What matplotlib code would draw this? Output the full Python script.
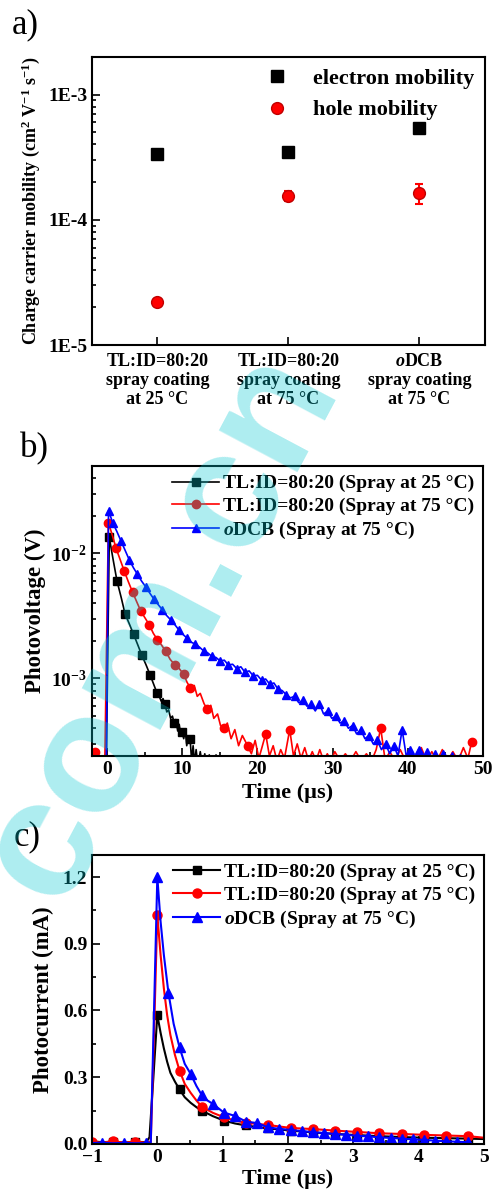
import numpy as np
import matplotlib
matplotlib.use("Agg")
import matplotlib.pyplot as plt
from matplotlib.ticker import FixedLocator, NullFormatter, MultipleLocator

plt.rcParams['font.family'] = ['Liberation Serif', 'DejaVu Serif']
plt.rcParams['font.weight'] = 'bold'
plt.rcParams['axes.labelweight'] = 'bold'
plt.rcParams['mathtext.fontset'] = 'custom'
plt.rcParams['mathtext.rm'] = 'Liberation Serif:bold'
plt.rcParams['mathtext.bf'] = 'Liberation Serif:bold'
plt.rcParams['mathtext.it'] = 'Liberation Serif:italic:bold'

# ---- panel a: mobilities ----
samples = ["TL:ID=80:20\nspray coating\nat 25 \u00b0C",
           "TL:ID=80:20\nspray coating\nat 75 \u00b0C",
           r"$\it{o}$DCB" + "\nspray coating\nat 75 \u00b0C"]
electron_mu = [3.38e-4, 3.48e-4, 5.4e-4]
electron_err = [0.1e-4, 0.3e-4, 0.15e-4]
hole_mu = [2.22e-5, 1.56e-4, 1.65e-4]
hole_err = [0.1e-5, 0.15e-4, 0.3e-4]

# ---- panel b: transient photovoltage ----
t_b_black = [-1.0, -0.4, -0.1, 0.3, 0.8, 1.33, 1.9, 2.39, 3.0, 3.54, 4.1, 4.6, 5.2, 5.75,
             6.2, 6.63, 6.9, 7.2, 7.45, 7.7, 7.95, 8.2, 8.45, 8.7, 8.93, 9.15, 9.4, 9.6,
             9.8, 10.0, 10.2, 10.4, 10.6, 10.8, 11.05, 11.25, 11.45, 11.65, 11.85, 12.1,
             12.4, 12.7, 13.0, 13.3, 13.6, 14.0, 14.5, 15.0]
v_b_black = [2.0e-4, 2.0e-4, 2.0e-4, 1.34e-2, 9.0e-3, 6.0e-3, 4.4e-3, 3.3e-3, 2.7e-3, 2.25e-3,
             1.85e-3, 1.55e-3, 1.28e-3, 1.06e-3, 9.0e-4, 7.7e-4, 7.3e-4, 6.6e-4, 6.9e-4,
             6.2e-4, 5.4e-4, 5.6e-4, 4.8e-4, 5.0e-4, 4.4e-4, 4.7e-4, 3.8e-4, 4.3e-4, 3.6e-4,
             3.7e-4, 3.3e-4, 3.9e-4, 2.9e-4, 3.4e-4, 3.3e-4, 2.2e-4, 2.9e-4, 2.1e-4, 2.7e-4,
             2.0e-4, 2.6e-4, 2.0e-4, 2.5e-4, 2.0e-4, 2.45e-4, 2.0e-4, 2.45e-4, 2.0e-4]
mk_b_black = [0.3, 1.33, 2.39, 3.54, 4.6, 5.75, 6.63, 7.7, 8.93, 10.0, 11.05]

t_b_red = [-1.6, -1.0, -0.3, 0.18, 0.7, 1.2, 1.75, 2.3, 2.85, 3.4, 3.95, 4.5, 5.05, 5.6, 6.15,
           6.7, 7.25, 7.8, 8.4, 9.0, 9.6, 10.2, 10.65, 11.1, 11.6, 12.0, 12.4, 12.9, 13.3,
           13.8, 14.2, 14.7, 15.1, 15.6, 16.0, 16.5, 17.0, 17.5, 18.0, 18.7, 19.2, 19.7, 20.2,
           20.6, 21.1, 21.6, 22.1, 22.6, 23.1, 23.6, 24.3, 24.8, 25.3, 25.8, 26.3, 26.8, 27.3,
           27.8, 28.3, 28.8, 29.3, 29.8, 30.3, 31.0, 31.7, 32.4, 33.1, 33.8, 34.5, 35.2, 35.8,
           36.4, 37.0, 37.6, 38.3, 39.0, 39.7, 40.4, 41.1, 41.8, 42.5, 43.2, 43.9, 44.6, 45.3,
           46.0, 46.7, 47.4, 48.0, 48.5]
v_b_red = [2.6e-4, 2.0e-4, 2.0e-4, 1.76e-2, 1.4e-2, 1.1e-2, 8.9e-3, 7.2e-3, 5.9e-3, 4.9e-3,
           4.1e-3, 3.45e-3, 3.05e-3, 2.7e-3, 2.3e-3, 2.04e-3, 1.85e-3, 1.65e-3, 1.42e-3, 1.29e-3,
           1.2e-3, 1.08e-3, 9.3e-4, 8.4e-4, 8.8e-4, 7.2e-4, 7.6e-4, 6.3e-4, 5.7e-4, 6.1e-4,
           4.8e-4, 5.2e-4, 4.2e-4, 4.0e-4, 4.4e-4, 3.3e-4, 3.9e-4, 2.9e-4, 3.5e-4, 2.9e-4,
           2.5e-4, 3.2e-4, 2.3e-4, 2.8e-4, 3.6e-4, 2.4e-4, 2.9e-4, 2.2e-4, 2.7e-4, 2.3e-4,
           3.9e-4, 2.4e-4, 3.0e-4, 2.3e-4, 2.8e-4, 2.2e-4, 2.6e-4, 2.2e-4, 2.7e-4, 2.2e-4,
           2.5e-4, 2.2e-4, 2.6e-4, 2.2e-4, 2.5e-4, 2.2e-4, 2.6e-4, 2.2e-4, 2.5e-4, 2.2e-4,
           2.7e-4, 4.0e-4, 2.2e-4, 2.6e-4, 2.2e-4, 2.7e-4, 2.2e-4, 2.5e-4, 2.2e-4, 2.8e-4,
           2.2e-4, 2.6e-4, 2.2e-4, 2.7e-4, 2.2e-4, 2.6e-4, 2.2e-4, 2.8e-4, 2.3e-4, 3.1e-4]
mk_b_red = [-1.6, 0.18, 1.2, 2.3, 3.4, 4.5, 5.6, 6.7, 7.8, 9.0, 10.2, 11.1, 13.3, 15.6, 18.7,
            21.1, 24.3, 36.4, 48.5]

t_b_blue = [-1.0, -0.5, -0.1, 0.2, 0.75, 1.3, 1.85, 2.4, 2.95, 3.5, 4.05, 4.6, 5.15, 5.7, 6.25,
            6.8, 7.35, 7.9, 8.45, 9.0, 9.55, 10.1, 10.65, 11.2, 11.75, 12.3, 12.85, 13.4, 13.95,
            14.5, 15.05, 15.6, 16.15, 16.7, 17.25, 17.8, 18.35, 18.9, 19.45, 20.0, 20.55, 21.1,
            21.65, 22.2, 22.75, 23.3, 23.85, 24.4, 24.95, 25.5, 26.05, 26.6, 27.15, 27.7, 28.25,
            28.8, 29.35, 29.9, 30.45, 31.0, 31.55, 32.1, 32.65, 33.2, 33.75, 34.3, 34.85, 35.4,
            35.95, 36.5, 37.05, 37.6, 38.15, 38.7, 39.25, 39.8, 40.35, 40.9, 41.45, 42.0, 42.55,
            43.1, 43.65, 44.2, 44.75, 45.3, 45.85, 46.4, 46.95, 47.5]
v_b_blue = [2.0e-4, 2.0e-4, 2.0e-4, 2.2e-2, 1.76e-2, 1.5e-2, 1.26e-2, 1.06e-2, 8.9e-3, 7.7e-3,
            6.8e-3, 6.0e-3, 5.4e-3, 4.8e-3, 4.3e-3, 3.9e-3, 3.55e-3, 3.2e-3, 2.95e-3, 2.7e-3,
            2.45e-3, 2.25e-3, 2.1e-3, 1.95e-3, 1.88e-3, 1.78e-3, 1.66e-3, 1.6e-3, 1.5e-3,
            1.47e-3, 1.38e-3, 1.4e-3, 1.28e-3, 1.3e-3, 1.2e-3, 1.24e-3, 1.12e-3, 1.15e-3,
            1.05e-3, 1.06e-3, 9.7e-4, 9.9e-4, 9.0e-4, 9.2e-4, 8.2e-4, 8.0e-4, 7.4e-4, 7.0e-4,
            7.2e-4, 6.4e-4, 6.7e-4, 6.0e-4, 6.2e-4, 5.5e-4, 6.3e-4, 5.2e-4, 5.5e-4, 4.8e-4,
            5.0e-4, 4.4e-4, 4.6e-4, 4.0e-4, 4.2e-4, 3.6e-4, 3.9e-4, 3.3e-4, 3.5e-4, 3.0e-4,
            3.2e-4, 2.7e-4, 3.0e-4, 2.5e-4, 2.9e-4, 2.4e-4, 3.9e-4, 2.4e-4, 2.7e-4, 2.3e-4,
            2.7e-4, 2.2e-4, 2.6e-4, 2.2e-4, 2.5e-4, 2.2e-4, 2.5e-4, 2.2e-4, 2.4e-4, 2.2e-4,
            2.3e-4, 2.1e-4]
mk_b_blue = [0.2, 0.75, 1.85, 2.95, 4.05, 5.15, 6.25, 7.35, 8.45, 9.55, 10.65, 11.75, 12.85,
             13.95, 15.05, 16.15, 17.25, 18.35, 19.45, 20.55, 21.65, 22.75, 23.85, 24.95, 26.05,
             27.15, 28.25, 29.35, 30.45, 31.55, 32.65, 33.75, 34.85, 35.95, 37.05, 38.15, 39.25,
             40.35, 41.45, 42.55, 43.65, 44.75, 45.85, 46.95]

# ---- panel c: transient photocurrent ----
t_c_black = [-1.0, -0.85, -0.68, -0.51, -0.34, -0.17, -0.12, -0.06, 0.0, 0.05, 0.1, 0.15, 0.2,
             0.27, 0.34, 0.42, 0.51, 0.6, 0.68, 0.85, 1.02, 1.19, 1.36, 1.53, 1.7, 2.04, 2.38,
             2.72, 3.06, 3.4, 3.74, 4.08, 4.42, 4.76, 5.0]
i_c_black = [0.012, 0.008, 0.01, 0.006, 0.01, 0.008, 0.03, 0.3, 0.58, 0.5, 0.43, 0.37, 0.32,
             0.28, 0.245, 0.21, 0.185, 0.165, 0.15, 0.125, 0.105, 0.092, 0.083, 0.076, 0.07,
             0.06, 0.052, 0.045, 0.04, 0.035, 0.031, 0.028, 0.026, 0.024, 0.022]
mk_c_black = [-0.68, -0.34, 0.0, 0.34, 0.68, 1.02, 1.36, 1.7, 2.04, 2.38, 2.72, 3.06, 3.4,
              3.74, 4.08, 4.42, 4.76]

t_c_red = [-1.0, -0.85, -0.68, -0.51, -0.34, -0.17, -0.1, -0.05, 0.0, 0.05, 0.1, 0.15, 0.2,
           0.27, 0.34, 0.42, 0.51, 0.6, 0.68, 0.85, 1.02, 1.19, 1.36, 1.53, 1.7, 2.04, 2.38,
           2.72, 3.06, 3.4, 3.74, 4.08, 4.42, 4.76, 5.0]
i_c_red = [0.01, 0.006, 0.012, 0.006, 0.01, 0.006, 0.01, 0.5, 1.03, 0.85, 0.7, 0.58, 0.49,
           0.4, 0.33, 0.27, 0.23, 0.195, 0.168, 0.14, 0.12, 0.105, 0.095, 0.09, 0.085, 0.072,
           0.067, 0.06, 0.054, 0.048, 0.045, 0.041, 0.038, 0.035, 0.028]
mk_c_red = [-1.0, -0.68, -0.34, 0.0, 0.34, 0.68, 1.02, 1.36, 1.7, 2.04, 2.38, 2.72, 3.06, 3.4,
            3.74, 4.08, 4.42, 4.76]

t_c_blue = [-1.0, -0.85, -0.68, -0.51, -0.34, -0.17, -0.1, -0.05, 0.0, 0.05, 0.1, 0.17, 0.25,
            0.34, 0.42, 0.51, 0.6, 0.68, 0.77, 0.85, 1.02, 1.19, 1.36, 1.53, 1.7, 1.87, 2.04,
            2.21, 2.38, 2.55, 2.72, 2.89, 3.06, 3.23, 3.4, 3.57, 3.74, 3.91, 4.08, 4.25, 4.42,
            4.59, 4.76]
i_c_blue = [0.004, 0.006, 0.003, 0.005, 0.003, 0.004, 0.005, 0.6, 1.2, 1.0, 0.85, 0.68, 0.54,
            0.434, 0.36, 0.315, 0.26, 0.22, 0.195, 0.18, 0.141, 0.126, 0.10, 0.094, 0.074,
            0.068, 0.063, 0.058, 0.053, 0.049, 0.045, 0.041, 0.037, 0.034, 0.03, 0.027, 0.024,
            0.021, 0.018, 0.015, 0.012, 0.01, 0.008]
mk_c_blue = [-0.85, -0.51, -0.17, 0.0, 0.17, 0.34, 0.51, 0.68, 0.85, 1.02, 1.19, 1.36, 1.53,
             1.7, 1.87, 2.04, 2.21, 2.38, 2.55, 2.72, 2.89, 3.06, 3.23, 3.4, 3.57, 3.74, 3.91,
             4.08, 4.25, 4.42, 4.59, 4.76]

series_labels = ["TL:ID=80:20 (Spray at 25 \u00b0C)",
                 "TL:ID=80:20 (Spray at 75 \u00b0C)",
                 r"$\it{o}$DCB" + " (Spray at 75 \u00b0C)"]


def mk_idx(t, mk):
    # indices of the samples that carry a marker
    return list(np.where(np.isin(np.round(t, 2), np.round(mk, 2)))[0])


def style_axes(ax):
    for s in ax.spines.values():
        s.set_linewidth(1.5)
    ax.tick_params(which='both', direction='in', top=False, right=False, width=1.2)
    ax.tick_params(which='major', length=6, labelsize=14)
    ax.tick_params(which='minor', length=3)


fig = plt.figure(figsize=(4.93, 12), dpi=100)

# a)
ax1 = fig.add_axes([0.1866, 0.7125, 0.797, 0.24])
pos = [1, 2, 3]
ax1.errorbar(pos, electron_mu, yerr=electron_err, fmt='none', ecolor='black', elinewidth=1.5,
             capsize=3, capthick=1.5)
ax1.errorbar(pos, hole_mu, yerr=hole_err, fmt='none', ecolor='red', elinewidth=1.5,
             capsize=3, capthick=1.5)
ax1.plot(pos, electron_mu, 's', color='black', ms=8, label='electron mobility')
ax1.plot(pos, hole_mu, 'o', color='red', mec='#c00000', ms=8.5, label='hole mobility')
ax1.set_yscale('log')
ax1.set_ylim(1e-5, 2e-3)
ax1.set_xlim(0.5, 3.5)
ax1.set_xticks(pos)
ax1.set_xticklabels(samples, fontsize=13, linespacing=1.15)
ax1.set_yticks([1e-5, 1e-4, 1e-3])
ax1.set_yticklabels(['1E-5', '1E-4', '1E-3'])
style_axes(ax1)
ax1.tick_params(axis='x', pad=6, labelsize=13)
ax1.set_ylabel(r'Charge carrier mobility (cm$^{2}$ V$^{-1}$ s$^{-1}$)', fontsize=13, labelpad=4)
ax1.legend(loc='upper right', frameon=False, fontsize=16, handletextpad=0.6,
           borderaxespad=0.1, labelspacing=0.5)
fig.text(12 / 493, 1 - 8 / 1200, 'a)', fontsize=25, weight='normal', va='top', ha='left')

# b)
ax2 = fig.add_axes([0.1866, 0.37, 0.793, 0.2417])
ax2.plot(t_b_black, v_b_black, '-s', color='black', lw=1.2, ms=5.5,
         markevery=mk_idx(t_b_black, mk_b_black), label=series_labels[0])
ax2.plot(t_b_red, v_b_red, '-o', color='red', lw=1.2, ms=6,
         markevery=mk_idx(t_b_red, mk_b_red), label=series_labels[1])
ax2.plot(t_b_blue, v_b_blue, '-^', color='blue', lw=1.2, ms=6,
         markevery=mk_idx(t_b_blue, mk_b_blue), label=series_labels[2])
ax2.set_yscale('log')
ax2.set_ylim(2.4e-4, 5e-2)
ax2.set_xlim(-2, 50)
ax2.set_yticks([1e-3, 1e-2])
ax2.set_yticklabels([r'$\mathbf{10^{-3}}$', r'$\mathbf{10^{-2}}$'])
ax2.yaxis.set_minor_locator(FixedLocator([3e-4, 4e-4, 5e-4, 6e-4, 7e-4, 8e-4, 9e-4,
                                          2e-3, 3e-3, 4e-3, 5e-3, 6e-3, 7e-3, 8e-3, 9e-3,
                                          2e-2, 3e-2, 4e-2]))
ax2.yaxis.set_minor_formatter(NullFormatter())
ax2.xaxis.set_major_locator(MultipleLocator(10))
ax2.xaxis.set_minor_locator(MultipleLocator(5))
style_axes(ax2)
ax2.set_xlabel('Time (\u00b5s)', fontsize=16, labelpad=4)
ax2.set_ylabel('Photovoltage (V)', fontsize=16.5, labelpad=4)
ax2.legend(loc='upper right', frameon=False, fontsize=14, handlelength=2.4,
           handletextpad=0.2, borderaxespad=0.05, labelspacing=0.25)
fig.text(20 / 493, 1 - 432 / 1200, 'b)', fontsize=25, weight='normal', va='top', ha='left')

# c)
ax3 = fig.add_axes([0.1866, 0.0467, 0.795, 0.241])
ax3.plot(t_c_black, i_c_black, '-s', color='black', lw=1.5, ms=6,
         markevery=mk_idx(t_c_black, mk_c_black), label=series_labels[0])
ax3.plot(t_c_red, i_c_red, '-o', color='red', lw=1.5, ms=6.5,
         markevery=mk_idx(t_c_red, mk_c_red), label=series_labels[1])
ax3.plot(t_c_blue, i_c_blue, '-^', color='blue', lw=1.5, ms=6.5,
         markevery=mk_idx(t_c_blue, mk_c_blue), label=series_labels[2])
ax3.set_xlim(-1, 5)
ax3.set_ylim(0, 1.3)
ax3.yaxis.set_major_locator(MultipleLocator(0.3))
ax3.yaxis.set_minor_locator(MultipleLocator(0.15))
ax3.xaxis.set_major_locator(MultipleLocator(1))
ax3.xaxis.set_minor_locator(MultipleLocator(0.5))
ax3.yaxis.set_major_formatter(plt.FuncFormatter(lambda v, p: f'{v:.1f}'))
style_axes(ax3)
ax3.set_xlabel('Time (\u00b5s)', fontsize=16, labelpad=2)
ax3.set_ylabel('Photocurrent (mA)', fontsize=16.5, labelpad=6)
ax3.legend(loc='upper right', frameon=False, fontsize=14, handlelength=2.4,
           handletextpad=0.2, borderaxespad=0.05, labelspacing=0.25)
fig.text(14 / 493, 1 - 820 / 1200, 'c)', fontsize=25, weight='normal', va='top', ha='left')

# watermark
fig.text(160 / 493, 1 - 625 / 1200, 'com.cn', fontsize=122, family='Liberation Sans',
         weight='bold', color=(0.0, 0.78, 0.82), alpha=0.32, rotation=62,
         ha='center', va='center')

fig.savefig('out.png', dpi=100)
